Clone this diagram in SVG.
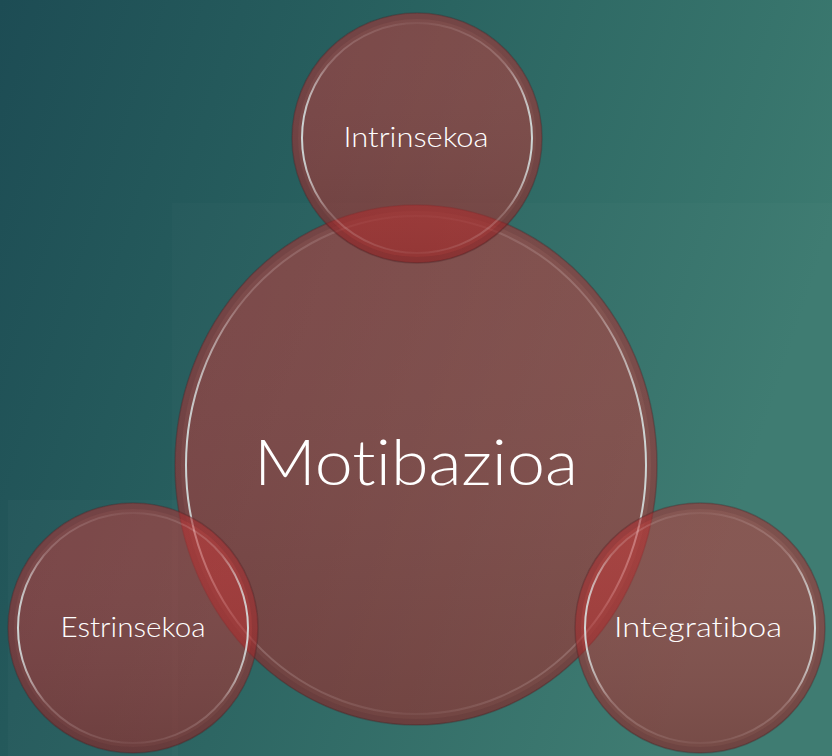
<svg xmlns="http://www.w3.org/2000/svg" width="832" height="756" viewBox="0 0 832 756">
<defs>
<linearGradient id="bg" x1="0" y1="0" x2="1" y2="0.3">
<stop offset="0" stop-color="#1d4c54"/>
<stop offset="0.5" stop-color="#2a6461"/>
<stop offset="1" stop-color="#3c7a70"/>
</linearGradient>
<linearGradient id="shade" x1="0" y1="0" x2="0" y2="1">
<stop offset="0" stop-color="#ffffff" stop-opacity="0.03"/>
<stop offset="1" stop-color="#000000" stop-opacity="0.1"/>
</linearGradient>
<linearGradient id="rim" x1="0" y1="0" x2="1" y2="0">
<stop offset="0" stop-color="#dceeee" stop-opacity="0.85"/>
<stop offset="0.12" stop-color="#f0e0e0" stop-opacity="0.22"/>
<stop offset="0.5" stop-color="#f0dada" stop-opacity="0.06"/>
<stop offset="0.88" stop-color="#f0e0e0" stop-opacity="0.22"/>
<stop offset="1" stop-color="#dceeee" stop-opacity="0.85"/>
</linearGradient>
</defs>
<style>
.disc{fill:#c82a2a;fill-opacity:0.5;stroke:#4a2428;stroke-opacity:0.35;stroke-width:1.5}
.edge{fill:none;stroke:#3a1c20;stroke-opacity:0.12;stroke-width:6}
.sh{fill:url(#shade)}
.rim{fill:none;stroke:url(#rim);stroke-width:2}
.lbl{font-family:Lato,"Liberation Sans",Arial,sans-serif;font-weight:300;fill:#ffffff;text-anchor:middle;font-variant-ligatures:none;font-feature-settings:"liga" 0}
.small{font-size:28px}
.big{font-size:64px}
</style>
<rect x="0" y="0" width="832" height="756" fill="url(#bg)"/>
<rect x="172" y="203" width="660" height="553" fill="#fff" opacity="0.015"/>
<rect x="8" y="500" width="170" height="256" fill="#fff" opacity="0.02"/>
<g id="connectors"/>
<g id="node-motibazioa">
<ellipse class="disc" cx="416" cy="465" rx="241" ry="260"/>
<ellipse class="sh" cx="416" cy="465" rx="241" ry="260"/>
<ellipse class="edge" cx="416" cy="465" rx="238" ry="257"/>
<ellipse class="rim" cx="416" cy="465" rx="230" ry="249"/>
<text class="lbl big" x="416" y="485" textLength="324" lengthAdjust="spacingAndGlyphs">Motibazioa</text>
</g>
<g id="node-intrinsekoa">
<circle class="disc" cx="417" cy="138" r="125"/>
<circle class="sh" cx="417" cy="138" r="125"/>
<circle class="edge" cx="417" cy="138" r="122"/>
<circle class="rim" cx="417" cy="138" r="115"/>
<text class="lbl small" x="416" y="147" textLength="145" lengthAdjust="spacingAndGlyphs">Intrinsekoa</text>
</g>
<g id="node-estrinsekoa">
<circle class="disc" cx="133" cy="628" r="125"/>
<circle class="sh" cx="133" cy="628" r="125"/>
<circle class="edge" cx="133" cy="628" r="122"/>
<circle class="rim" cx="133" cy="628" r="115"/>
<text class="lbl small" x="133" y="637" textLength="145" lengthAdjust="spacingAndGlyphs">Estrinsekoa</text>
</g>
<g id="node-integratiboa">
<circle class="disc" cx="700" cy="628" r="125"/>
<circle class="sh" cx="700" cy="628" r="125"/>
<circle class="edge" cx="700" cy="628" r="122"/>
<circle class="rim" cx="700" cy="628" r="115"/>
<text class="lbl small" x="698" y="637" textLength="168" lengthAdjust="spacingAndGlyphs">Integratiboa</text>
</g>
</svg>
